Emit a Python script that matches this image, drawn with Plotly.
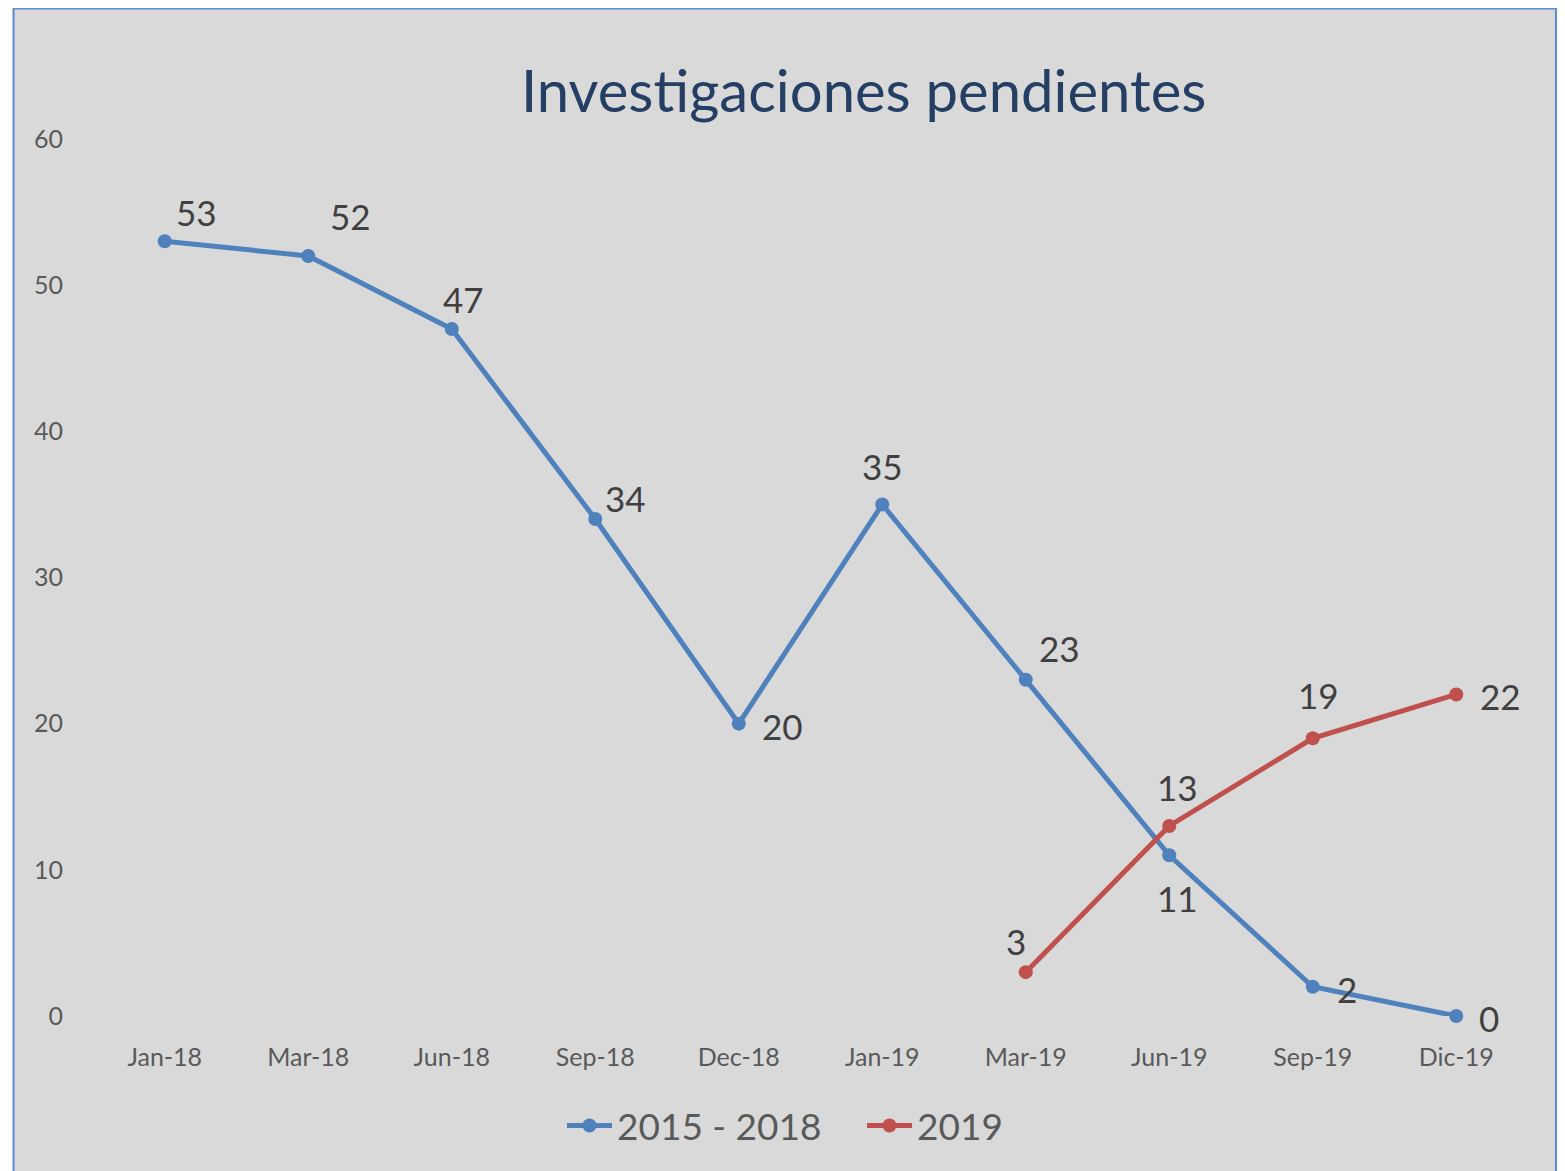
import plotly.graph_objects as go

categories = ["Jan-18", "Mar-18", "Jun-18", "Sep-18", "Dec-18", "Jan-19", "Mar-19", "Jun-19", "Sep-19", "Dic-19"]
serie_2015_2018 = [53, 52, 47, 34, 20, 35, 23, 11, 2, 0]
serie_2019 = [None, None, None, None, None, None, 3, 13, 19, 22]
y_ticks = [0, 10, 20, 30, 40, 50, 60]

# label offsets (pixels) for data labels
off_blue = [(32, -29), (42, -40), (12, -30), (30, -21), (44, 2), (0, -38), (34, -32), (8, 43), (34, 2), (33, 2)]
off_red = [None, None, None, None, None, None, (-10, -31), (8, -39), (6, -43), (44, 2)]

BLUE = "#4F81BD"
RED = "#C0504D"
FONT = "Lato, 'Open Sans', sans-serif"

OFF = 8  # page body margin
W, H = 1565 - OFF, 1171 - OFF
L, R, T, B = 85, 37, 131, 155
pw = W - L - R
ph = H - T - B

def px_x(p):
    return (p - OFF - L) / pw

def px_y(p):
    return (H - B - (p - OFF)) / ph

fig = go.Figure()
fig.add_trace(go.Scatter(
    x=categories, y=serie_2015_2018, mode="lines+markers", name="2015 - 2018",
    line=dict(color=BLUE, width=5), marker=dict(color=BLUE, size=14), cliponaxis=False,
))
fig.add_trace(go.Scatter(
    x=categories, y=serie_2019, mode="lines+markers", name="2019",
    line=dict(color=RED, width=5), marker=dict(color=RED, size=14), cliponaxis=False,
))

annotations = []
for cat, v, off in zip(categories, serie_2015_2018, off_blue):
    annotations.append(dict(x=cat, y=v, xref="x", yref="y", text=str(v), showarrow=False,
                            xshift=off[0], yshift=-off[1],
                            font=dict(family=FONT, size=35, color="#404040")))
for cat, v, off in zip(categories, serie_2019, off_red):
    if v is None:
        continue
    annotations.append(dict(x=cat, y=v, xref="x", yref="y", text=str(v), showarrow=False,
                            xshift=off[0], yshift=-off[1],
                            font=dict(family=FONT, size=35, color="#404040")))

annotations.append(dict(
    x=px_x(863), y=px_y(89), xref="paper", yref="paper", xanchor="center", yanchor="middle",
    text="Investigaciones pendientes", showarrow=False,
    font=dict(family=FONT, size=58, color="#243F63"),
))

fig.update_layout(
    width=W, height=H,
    margin=dict(l=L, r=R, t=T, b=B),
    paper_bgcolor="white",
    plot_bgcolor="rgba(0,0,0,0)",
    showlegend=True,
    legend=dict(orientation="h", x=px_x(562), xanchor="left", y=px_y(1126), yanchor="middle",
                font=dict(family=FONT, size=37, color="#595959"), bgcolor="rgba(0,0,0,0)",
                itemwidth=45, entrywidth=240, entrywidthmode="pixels"),
    annotations=annotations,
    shapes=[dict(type="rect", xref="paper", yref="paper", layer="below",
                 x0=px_x(13.5), x1=px_x(1556), y0=px_y(1185), y1=px_y(8.5),
                 fillcolor="#D9D9D9", line=dict(color="#5B8BD0", width=2))],
)
fig.update_xaxes(
    type="category", range=[-0.5, 9.5], showgrid=False, zeroline=False, showline=False,
    ticks="", tickfont=dict(family=FONT, size=25, color="#595959"), ticklabelstandoff=24,
)
fig.update_yaxes(
    range=[0, 60], tickvals=y_ticks, showgrid=False, zeroline=False, showline=False,
    ticks="", tickfont=dict(family=FONT, size=25, color="#595959"), ticklabelstandoff=29,
)

fig.write_html("out.html")
